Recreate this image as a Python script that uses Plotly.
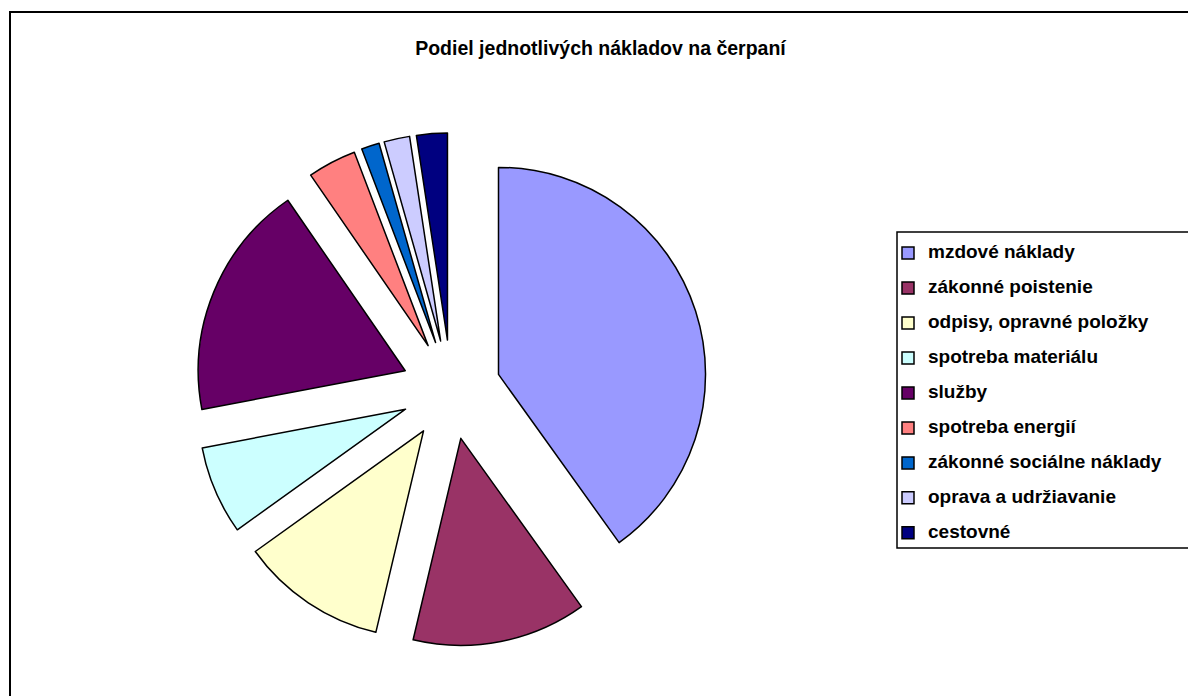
import plotly.graph_objects as go

# ---- data ----
title_text = "Podiel jednotlivých nákladov na čerpaní"
categories = [
    "mzdové náklady",
    "zákonné poistenie",
    "odpisy, opravné položky",
    "spotreba materiálu",
    "služby",
    "spotreba energií",
    "zákonné sociálne náklady",
    "oprava a udržiavanie",
    "cestovné",
]
shares = [40.1, 13.6, 11.4, 6.9, 18.4, 3.8, 1.4, 2.0, 2.4]
colors = ["#9999FF", "#993366", "#FFFFCC", "#CCFFFF", "#660066",
          "#FF8080", "#0066CC", "#CCCCFF", "#000080"]

W, H = 1188, 696
FONT = "Arial, 'Liberation Sans', sans-serif"

# legend labels: big visible text on the first line, an empty second line to
# reproduce the wide row spacing of the original legend
legend_labels = [f"<span style='font-size:19px'>{c}</span><br> " for c in categories]

# pie geometry (pixels)
cx, cy, side = 451.2, 389.6, 513.4

fig = go.Figure(go.Pie(
    labels=legend_labels,
    values=shares,
    customdata=categories,
    sort=False,
    direction="clockwise",
    rotation=0,
    pull=[0.24] * len(shares),
    marker=dict(colors=colors, line=dict(color="black", width=1.5)),
    textinfo="none",
    hovertemplate="%{customdata}: %{value}<extra></extra>",
    domain=dict(x=[(cx - side / 2) / W, (cx + side / 2) / W],
                y=[1 - (cy + side / 2) / H, 1 - (cy - side / 2) / H]),
))

fig.update_layout(
    width=W, height=H,
    margin=dict(l=0, r=0, t=0, b=0),
    paper_bgcolor="white",
    font=dict(family=FONT, color="black"),
    title=dict(text=title_text, x=600.5 / W, xanchor="center",
               y=1 - 48 / H, yanchor="middle",
               font=dict(family=FONT, size=19.5, weight="bold", color="black")),
    legend=dict(x=888 / W, xanchor="left", y=1 - 238.5 / H, yanchor="top",
                bgcolor="rgba(0,0,0,0)", borderwidth=0, valign="top",
                font=dict(family=FONT, size=12.3, weight="bold", color="black"),
                traceorder="normal"),
    shapes=[
        dict(type="rect", xref="paper", yref="paper",
             x0=10 / W, x1=1.05, y0=-0.05, y1=1 - 12 / H,
             line=dict(color="black", width=2), fillcolor="rgba(0,0,0,0)"),
        dict(type="rect", xref="paper", yref="paper",
             x0=897 / W, x1=1.05, y0=1 - 548 / H, y1=1 - 232 / H,
             line=dict(color="black", width=1.5), fillcolor="rgba(0,0,0,0)"),
    ],
)

fig.write_html("out.html", config={"displayModeBar": False},
               post_script="document.body.style.margin='0';")
